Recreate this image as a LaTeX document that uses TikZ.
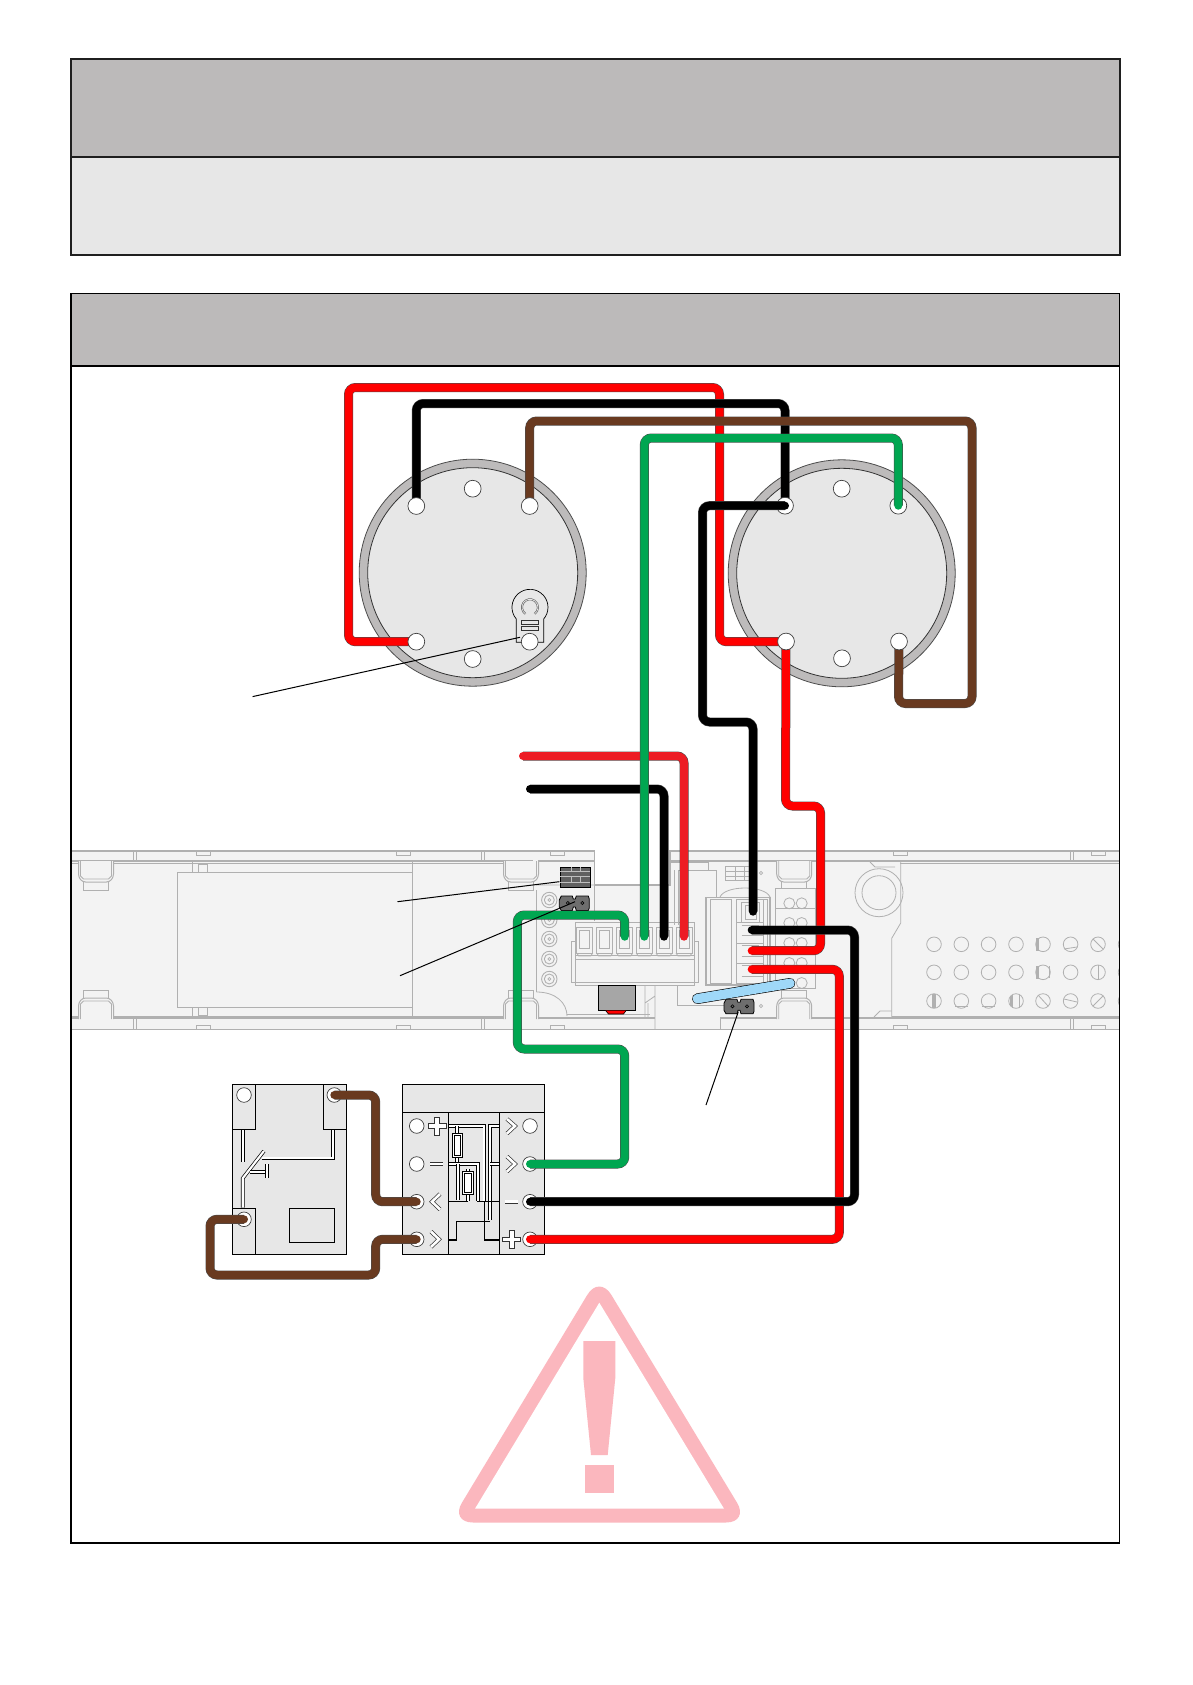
\documentclass[tikz,border=0pt]{standalone}
\definecolor{hdr}{HTML}{BCBABA}
\definecolor{pale}{HTML}{E7E7E7}
\definecolor{railfill}{HTML}{F3F3F3}
\definecolor{rail}{HTML}{B0B0B0}
\definecolor{wred}{HTML}{FF0000}
\definecolor{wred2}{HTML}{ED1C24}
\definecolor{wgreen}{HTML}{00A651}
\definecolor{wbrown}{HTML}{693A20}
\definecolor{wblue}{HTML}{9FD8F8}
\definecolor{warn}{HTML}{FBB7BE}
\definecolor{ringc}{HTML}{BDBBBB}
\definecolor{jump}{HTML}{6E6E6E}
\tikzset{
  frameA/.style={draw=black!88,line width=2},
  frameB/.style={draw=black,line width=1.6},
  wire/.style={line width=8,line cap=round,line join=round,rounded corners=7,preaction={draw=black!70,line width=9}},
  raill/.style={draw=rail,line width=0.8},
  railb/.style={draw=rail,line width=1.4},
  hole/.style={draw=black!75,fill=white,line width=0.7},
  plate/.style={draw=black,fill=pale,line width=1},
  trace/.style={draw=black,double=white,double distance=2.2,line width=0.7},
  sym/.style={draw=black!80,double=white,double distance=2.6,line width=0.7,line join=miter},
  solid1/.style={draw=black,line width=1.3},
  leader/.style={draw=black,line width=1},
  clipshape/.style={draw=rail,line width=1,fill=railfill,rounded corners=3},
}
\newcommand{\clipup}[2]{% x left, width 35
  \draw[clipshape] (#1,861) -- (#1,877) -- (#1+4,882) -- (#1+31,882) -- (#1+35,877) -- (#1+35,861);
  \draw[raill] (#1+2,861) -- (#1+2,876) -- (#1+5,879) -- (#1+30,879) -- (#1+33,876) -- (#1+33,861);
  \draw[raill] (#1+5,882) -- (#1+5,890) -- (#1+30,890) -- (#1+30,882);
}
\newcommand{\clipdn}[2]{%
  \draw[clipshape] (#1,1019) -- (#1,1003) -- (#1+4,998) -- (#1+31,998) -- (#1+35,1003) -- (#1+35,1019);
  \draw[raill] (#1+2,1019) -- (#1+2,1004) -- (#1+5,1001) -- (#1+30,1001) -- (#1+33,1004) -- (#1+33,1019);
  \draw[raill] (#1+5,998) -- (#1+5,990) -- (#1+30,990) -- (#1+30,998);
}
\newcommand{\jumper}[2]{% left, top
  \draw[fill=jump,draw=black,line width=0.8] (#1+2,#2) -- (#1+13,#2) -- (#1+14,#2+3) -- (#1+16,#2+3) -- (#1+17,#2) -- (#1+29,#2) -- (#1+30,#2+3) -- (#1+30,#2+12) -- (#1+29,#2+14.5) -- (#1+17,#2+14.5) -- (#1+16,#2+11) -- (#1+14,#2+11) -- (#1+13,#2+14.5) -- (#1+2,#2+14.5) -- (#1,#2+11) -- (#1,#2+4) -- cycle;
  \draw[black,fill=jump,line width=0.6] (#1+8.5,#2+7) circle (1.6) (#1+23,#2+7) circle (1.6);
}
\newcommand{\termtop}[1]{% x centre
  \draw[raill,fill=railfill] (#1-8,927.5) rectangle (#1+8,953);
  \draw[raill] (#1-5,930) rectangle (#1+5,948);
  \draw[raill] (#1-8,953) -- (#1-6,956) -- (#1+6,956) -- (#1+8,953);
}
\newcommand{\plussign}[2]{%
  \draw[black!80,fill=white,line width=0.7] (#1-2.2,#2-9) -- (#1+2.2,#2-9) -- (#1+2.2,#2-2.2) -- (#1+9,#2-2.2) -- (#1+9,#2+2.2) -- (#1+2.2,#2+2.2) -- (#1+2.2,#2+9) -- (#1-2.2,#2+9) -- (#1-2.2,#2+2.2) -- (#1-9,#2+2.2) -- (#1-9,#2-2.2) -- (#1-2.2,#2-2.2) -- cycle;
}
\begin{document}
\begin{tikzpicture}[x=1pt,y=-1pt]
\useasboundingbox (0,0) rectangle (1192,1685);
\fill[white] (0,0) rectangle (1192,1685);
% header boxes
\fill[hdr] (71,59) rectangle (1119.5,157);
\fill[pale] (71,157) rectangle (1119.5,255);
\draw[frameA] (71,59) rectangle (1119.5,255);
\draw[frameA] (71,157) -- (1119.5,157);
\fill[hdr] (71,293.5) rectangle (1119.5,366);
\draw[frameB] (71,366) -- (1119.5,366);
% warning triangle
\fill[warn,rounded corners=23] (599.3,1275) -- (749,1522.5) -- (450,1522.5) -- cycle;
\fill[white] (599.3,1302.7) -- (724,1508.7) -- (475,1508.7) -- cycle;
\fill[warn] (583.3,1341) -- (615.3,1341) -- (615.3,1378) -- (607.7,1455) -- (591,1455) -- (583.3,1378) -- cycle;
\fill[warn] (585,1465) rectangle (614.3,1493.3);
% mounting rail
\begin{scope}
\clip (71,845) rectangle (1119,1035);
\path[fill=railfill] (71,851) -- (594.5,851) -- (594.5,885) -- (670,885) -- (670,851) -- (1125,851) -- (1125,1029.5) -- (71,1029.5) -- cycle;
\draw[railb] (71,851) -- (594.5,851) -- (594.5,885) -- (670,885) -- (670,851) -- (1125,851);
\draw[railb] (71,1029.5) -- (1125,1029.5);
\draw[railb] (71,861) -- (533,861) (538,861) -- (594,861) (670,861) -- (1125,861);
\draw[raill] (71,863) -- (533,863) (900,863) -- (1125,863);
\draw[railb] (71,1018) -- (655,1018) (720,1018) -- (1125,1018);
\draw[raill] (71,1016) -- (505,1016) (892,1016) -- (1125,1016);
% end-strip ticks
\foreach \x in {133,136,481,484,1070,1073} {\draw[raill] (\x,851) -- (\x,861) (\x,1018) -- (\x,1029);}
\foreach \x in {203,403,557,900,1098} {
  \draw[raill] (\x-7,851) -- (\x-7,855) -- (\x+7,855) -- (\x+7,851);
  \draw[raill] (\x-7,1029) -- (\x-7,1025) -- (\x+7,1025) -- (\x+7,1029);
}
% label panel
\draw[raill] (177.5,872.3) rectangle (412.5,1007.3);
\draw[raill] (412.5,862) -- (412.5,1017);
\draw[raill] (192,862) -- (192,872.3) (192,1007.3) -- (192,1017);
\draw[raill] (198,864) rectangle (207,872.3) (198,1007.3) rectangle (207,1015);
% clips
\clipup{78.5}{}\clipdn{78.5}{}
\clipup{503.5}{}\clipdn{503.5}{}
\clipup{776.7}{}\clipdn{776.7}{}
% right end with the round seat
\draw[raill] (879,892.7) circle (24) (879,892.7) circle (17);
\draw[raill] (900.7,862) -- (900.7,923) -- (891.7,938.3) -- (891.7,1017);
\draw[raill] (891.7,1011) -- (880,1011) -- (874,1017);
\draw[raill] (870,862) -- (875,867) -- (895,867);
% perforation
\foreach \x in {934,961.3,988.6,1016,1043,1070.6,1098,1125.5} \foreach \y in {944.3,972.3,1001} {\draw[raill] (\x,\y) circle (7.3);}
\fill[rail] (1036,938.3) rectangle (1038.5,950.5);
\draw[raill] (1064,949) -- (1077,947);
\draw[raill] (1093,939) -- (1103,949);
\fill[rail] (1036,966) rectangle (1039,978.5);
\draw[raill] (1049,966) -- (1049,978);
\draw[raill] (1098,965) -- (1098,979);
\fill[rail] (932,994) rectangle (936,1008);
\draw[rail,line width=1.5] (955,1006.5) -- (968,1006.5) (982,1006.5) -- (995,1006.5);
\draw[raill] (1012,994.5) -- (1012,1007.5) (1019,994.5) -- (1019,1007.5);
\fill[rail] (1009.5,996) rectangle (1012,1006);
\draw[raill] (1038,995) -- (1048,1006);
\draw[raill] (1064,999) -- (1077,1002);
\draw[raill] (1093,1006) -- (1103,996);
% PCB plate
\draw[raill] (594,861) -- (594,921) (536.5,890) -- (536.5,992);
\draw[raill] (536.5,885) -- (594,885) (536.5,992) .. controls (556,992) and (567,1003) .. (567,1016);
\draw[raill] (567,1014) -- (650,1014);
\foreach \y in {900,920,939,959,979} {
  \draw[rail,line width=0.9] (549.3,\y) circle (7.7) (549.3,\y) circle (5);
  \draw[rail,line width=0.7] (549.3,\y) circle (1.5);
}
% left terminal block
\draw[raill,fill=railfill] (571.7,941.7) rectangle (698.3,982.7);
\draw[raill,fill=railfill] (575,922.3) rectangle (694.3,985);
\draw[raill] (575,955) -- (694.3,955) (575,959.3) -- (694.3,959.3) (575,982.5) -- (694.3,982.5);
\foreach \x in {584.7,604.7,624.7,644.3,664,684} {\termtop{\x}}
% grey box under it
\draw[draw=black,fill=black!35,line width=1] (598.3,985.7) rectangle (635,1010.7);
\fill[wred] (605.7,1010.7) -- (626,1010.7) -- (623.5,1014) -- (608.5,1014) -- cycle;
\draw[black,line width=0.6] (605.7,1010.7) -- (608.5,1014) -- (623.5,1014) -- (626,1010.7);
\draw[raill] (645,985) -- (645,1018) (655,985) -- (655,1029) (645,1003) -- (655,996) (648,1003) -- (648,1018);
% dark connector block
\draw[draw=black,fill=black!62,line width=0.8] (560,867.3) rectangle (590,887.7);
\draw[black!25,line width=0.7] (560,871.7) -- (590,871.7) (560,876) -- (590,876) (560,882.7) -- (590,882.7);
\draw[black!25,line width=0.7] (571,867.3) -- (571,871.7) (580,867.3) -- (580,871.7) (571,876) -- (571,882.7) (580,876) -- (580,882.7);
\jumper{559.3}{896}
% upper right PCB outlines
\draw[raill] (670,862) -- (708.3,862) -- (708.3,870.7) -- (716.7,870.7) -- (716.7,896.7);
\draw[raill] (674,870) -- (674,925) (678,870) -- (678,925);
\draw[raill] (678,870) -- (708,870);
\draw[raill] (725.7,866.5) rectangle (753.3,880.7);
\draw[raill] (725.7,871) -- (753.3,871) (725.7,876) -- (753.3,876) (735,866.5) -- (735,880.7) (744,866.5) -- (744,880.7);
\draw[raill] (761,873) circle (1.6) (761,1006) circle (1.6);
\draw[raill] (720,897) .. controls (725,885) and (765,885) .. (770,897);
% right terminal block
\draw[railb,fill=railfill] (706,897.3) rectangle (770,985);
\draw[raill] (710,899.5) rectangle (731.7,983);
\draw[raill] (736.7,899.5) rectangle (767,983);
\draw[raill] (763.3,899.5) -- (763.3,983);
\draw[raill] (741.7,902) rectangle (759,922) (745,905) rectangle (756,919);
\foreach \y in {922.7,943.3,963.3} {
  \draw[raill] (736.7,\y) -- (763.3,\y) (741.7,\y+2.5) -- (759,\y+2.5) (741.7,\y+13) -- (763,\y+13);
}
% white circle block
\draw[raill,fill=railfill] (775,888.3) rectangle (815.7,988);
\draw[raill] (775,908.3) -- (815.7,908.3) (775,928.3) -- (815.7,928.3) (775,948.3) -- (815.7,948.3) (775,968.3) -- (815.7,968.3);
\foreach \y in {903.3,923,943,963} {\draw[raill] (789.3,\y) circle (5.5) (801.7,\y) circle (5.5);}
\draw[raill] (801.7,983) circle (5.5);
\draw[raill] (677.3,985) -- (677.3,1005) -- (725,1005);
\draw[raill] (720.7,1018) -- (720.7,1029);
\jumper{724}{999.3}
\end{scope}
% second frame outline (over the rail)
\draw[frameB] (71,293.5) rectangle (1119.5,1543);
% round devices
\coordinate (c1) at (472.7,572.7);
\coordinate (c2) at (841.7,573.3);
\foreach \c in {c1,c2} {
  \draw[black!70,fill=ringc,line width=0.8] (\c) circle (113.5);
  \draw[black!80,fill=pale,line width=0.8] (\c) circle (105);
}
\coordinate (a1) at (416.3,506);\coordinate (a2) at (472.7,488.7);\coordinate (a3) at (529.7,506);
\coordinate (a4) at (416.3,641.7);\coordinate (a5) at (529.7,641.7);\coordinate (a6) at (472.7,659);
\coordinate (b1) at (785,505.7);\coordinate (b2) at (841.7,488.7);\coordinate (b3) at (898.3,505.7);
\coordinate (b4) at (786,641.5);\coordinate (b5) at (899,641.5);\coordinate (b6) at (842,658.3);
% battery holder
\draw[black,fill=pale,line width=0.7] (516.3,642.3) -- (516.3,619) arc[start angle=139.5,end angle=400.5,radius=18] -- (543.7,642.3) -- cycle;
\draw[black!60,line width=2] (530,607.3) ++(125:8) arc[start angle=125,end angle=415,radius=8];
\draw[pale,line width=0.7] (530,607.3) ++(125:8) arc[start angle=125,end angle=415,radius=8];
\draw[black!80,fill=pale,line width=0.7] (521,620) rectangle (538.5,624.5) (521,626) rectangle (538.5,630.5);
% relay box
\draw[plate] (232.3,1084.3) rectangle (346.7,1254.3);
\draw[plate] (232.3,1084.3) rectangle (255.7,1129.3);
\draw[plate] (323.3,1084.3) rectangle (346.7,1129.3);
\draw[plate] (232.3,1208.3) rectangle (255.7,1254.3);
\draw[plate] (289.3,1208.3) rectangle (334.7,1242.7);
\coordinate (r1) at (244,1095);\coordinate (r2) at (334.3,1095);\coordinate (r3) at (244,1219.3);
\foreach \p in {r1,r2,r3} {\draw[hole] (\p) circle (7.3);}
\draw[trace] (242.7,1130) -- (242.7,1161.7);
\draw[trace] (332.7,1130) -- (332.7,1158.3) -- (262.3,1158.3);
\draw[trace] (242.7,1207.5) -- (242.7,1178.3) -- (264,1151);
\draw[trace] (250,1171.7) -- (266,1171.7);
\draw[trace] (266.7,1164.3) -- (266.7,1178.3);
% module box
\draw[plate] (402.3,1084.3) rectangle (544.3,1254.3);
\draw[black,line width=1] (402.3,1112.7) -- (544.3,1112.7) (448.3,1112.7) -- (448.3,1254.3) (499.3,1112.7) -- (499.3,1254.3);
\foreach \y [count=\i] in {1126,1164,1201.7,1239.3} {
  \coordinate (ml\i) at (416.7,\y);
  \coordinate (mr\i) at (530,\y);
  \draw[hole] (ml\i) circle (7.3);
  \draw[hole] (mr\i) circle (7.3);
}
% module symbols
\plussign{437}{1126}
\draw[sym] (430,1164) -- (443,1164);
\draw[sym] (440,1194) -- (432,1201.7) -- (440,1209.5);
\draw[sym] (431,1231.5) -- (439,1239.3) -- (431,1247);
\draw[sym] (507,1119) -- (515,1126) -- (507,1133.5);
\draw[sym] (507,1156.5) -- (515,1164) -- (507,1171.5);
\draw[sym] (505,1201.7) -- (518,1201.7);
\plussign{511.7}{1239.3}
% module circuit
\draw[trace] (449,1126) -- (484.3,1126) -- (484.3,1201);
\draw[trace] (498.7,1126) -- (490,1126) -- (490,1220);
\draw[trace] (490,1164) -- (498.7,1164);
\draw[trace] (456.7,1126) -- (456.7,1164);
\draw[trace] (449,1164) -- (478,1164) -- (478,1201);
\draw[trace] (458,1164) -- (458,1200);
\draw[trace] (467.7,1169) -- (467.7,1201);
\draw[black,fill=white,line width=0.9] (452.3,1133.3) rectangle (462.3,1157.3);
\draw[black,fill=white,line width=0.9] (454.3,1135.3) rectangle (460.3,1155.3);
\draw[black,fill=white,line width=0.9] (462.5,1171.7) rectangle (473,1194);
\draw[black,fill=white,line width=0.9] (464.5,1173.7) rectangle (471,1192);
\draw[solid1] (449,1201.7) -- (468,1201.7) (477,1201.7) -- (498.7,1201.7);
\draw[solid1] (484.3,1201.7) -- (484.3,1240) -- (498.7,1240);
\draw[solid1] (449,1240) -- (456.7,1240) -- (456.7,1221.7) -- (490,1221.7);
% wires running under the holes
\draw[wire,draw=wred] (a4) -- (348.5,641.7) -- (348.5,387.5) -- (719.5,387.5) -- (719.5,641.7) -- (b4);
\draw[wire,draw=wred] (b4) -- (785.5,806) -- (820.5,806) -- (820.5,950.7) -- (751.7,950.7);
\draw[wire,draw=wred2] (523,756) -- (684,756) -- (684,936.7);
\draw[wire,draw=black] (530,789) -- (664,789) -- (664,936.7);
\draw[wire,draw=black] (a1) -- (416.3,403.5) -- (785,403.5) -- (b1);
\draw[wire,draw=wbrown] (a3) -- (529.7,421) -- (972,421) -- (972,703.5) -- (898.5,703.5) -- (b5);
% holes of the round devices
\foreach \p in {a1,a2,a3,a4,a5,a6,b1,b2,b3,b4,b5,b6} {\draw[hole] (\p) circle (8.4);}
% wires above the holes
\draw[wire,draw=black] (b1) -- (702.5,505.7) -- (702.5,722) -- (753,722) -- (753,911.7);
\draw[wire,draw=wgreen] (b3) -- (898.3,438) -- (644.3,438) -- (644.3,936.7);
\draw[wire,draw=wgreen] (624.7,936.7) -- (624.7,915) -- (517.3,915) -- (517.3,1049) -- (624.7,1049) -- (624.7,1164) -- (mr2);
\draw[wire,draw=wred] (mr4) -- (839.3,1239.3) -- (839.3,969.3) -- (751.7,969.3);
\draw[wire,draw=black] (mr3) -- (854.5,1201.7) -- (854.5,930) -- (751.7,930);
\draw[wire,draw=wbrown] (r2) -- (375.7,1095) -- (375.7,1201.7) -- (ml3);
\draw[wire,draw=wbrown] (ml4) -- (375.7,1239.3) -- (375.7,1275) -- (210,1275) -- (210,1219.3) -- (r3);
% bridge
\draw[black,line width=10.6,line cap=round] (697.3,998.7) -- (790,983.3);
\draw[wblue,line width=9.4,line cap=round] (697.3,998.7) -- (790,983.3);
% leaders
\coordinate (l1) at (252.6,696.6);\coordinate (l1e) at (520,637.3);
\coordinate (l2) at (397.5,901.7);\coordinate (l2e) at (559.3,881.7);
\coordinate (l3) at (400,975.7);\coordinate (l3e) at (575,901.7);
\coordinate (l4) at (706,1105);\coordinate (l4e) at (738.3,1011.7);
\draw[leader] (l1) -- (l1e);
\draw[leader] (l2) -- (l2e);
\draw[leader] (l3) -- (l3e);
\draw[leader] (l4) -- (l4e);
\end{tikzpicture}
\end{document}
